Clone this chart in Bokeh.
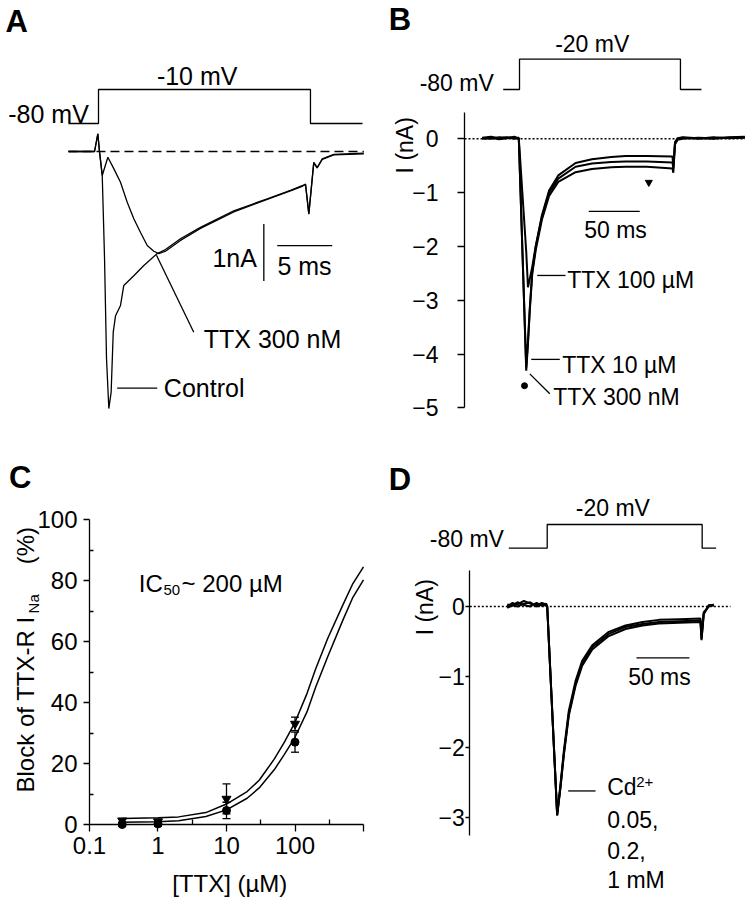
from math import pi
from bokeh.plotting import figure
from bokeh.models import (Range1d, Label, FixedTicker, Whisker, TeeHead,
                          ColumnDataSource, CustomJSTickFormatter)
from bokeh.layouts import column, row
from bokeh.embed import file_html
from bokeh.resources import INLINE

FONT = "Liberation Sans"
LW = 1.3

# ---------------- Panel A data (ms, nA, mV) ----------------
a_step_t = [-2.73, 0.0, 0.0, 19.27, 19.27, 24.0]
a_step_v = [-80, -80, -10, -10, -80, -80]
a_ctrl_t = [-2.73, -0.36, -0.06, 0.09, 0.34, 0.55, 0.73, 0.94, 1.15, 1.34, 1.55, 2.00,
            2.30, 3.21, 4.12, 5.34, 6.09, 7.45, 9.27, 12.3, 15.34, 17.45, 18.52, 18.82,
            19.12, 19.57, 19.88, 20.34, 21.39, 24.12]
a_ctrl_i = [0, 0, 0.31, 0, -0.42, -1.88, -3.64, -4.51, -4.22, -3.17, -2.88, -2.70,
            -2.35, -2.18, -2.00, -1.79, -1.72, -1.53, -1.33, -1.04, -0.83, -0.68, -0.60, -0.57,
            -1.09, -0.19, -0.28, -0.13, -0.05, -0.03]
a_ttx_t = [-2.73, -0.36, -0.06, 0.09, 0.34, 0.85, 1.39, 2.00, 2.61, 3.21, 3.82, 4.43,
           5.03, 5.48, 6.09, 7.45, 9.27, 12.3, 15.34, 17.45, 18.52, 18.82, 19.12, 19.57,
           19.88, 20.34, 21.39, 24.12]
a_ttx_i = [0, 0, 0.31, 0, -0.42, -0.10, -0.30, -0.54, -0.89, -1.18, -1.42, -1.65,
           -1.75, -1.79, -1.75, -1.56, -1.35, -1.06, -0.84, -0.69, -0.61, -0.58, -1.10, -0.20,
           -0.29, -0.14, -0.06, -0.04]

# ---------------- Panel B data ----------------
b_step_t = [-16.0, 0.0, 0.0, 157.8, 157.8, 178.4]
b_step_v = [-80, -80, -20, -20, -80, -80]
b_t = [-36.6, -28, -20, -12, -5, -0.7, 6.6, 8.3, 10.1, 12.5, 16, 22, 29, 38, 55, 71, 90,
       104, 125, 150, 150.8, 152.5, 155, 160, 175, 190, 205, 220.9]
b_300nM = [0.02, 0.04, 0.01, 0.03, 0.02, 0.02, -4.31, -3.81, -3.19, -2.51, -2.06, -1.50, -1.06,
           -0.80, -0.62, -0.56, -0.53, -0.52, -0.52, -0.55, -0.63, -0.10, -0.02, 0.0, 0.02,
           0.01, 0.03, 0.04]
b_10uM = [0.0, 0.02, -0.01, 0.01, 0.04, 0.0, -4.25, -3.76, -3.14, -2.47, -2.0, -1.45, -1.0,
          -0.74, -0.52, -0.46, -0.43, -0.42, -0.42, -0.44, -0.55, -0.08, 0.0, 0.02, 0.0,
          0.03, 0.01, 0.02]
b_100uM = [0.01, 0.0, 0.03, 0.02, 0.0, 0.01, -2.1, -2.76, -2.6, -2.38, -1.98, -1.42, -0.96,
           -0.68, -0.45, -0.38, -0.34, -0.32, -0.32, -0.33, -0.5, -0.06, 0.01, 0.03, 0.01,
           0.0, 0.02, 0.03]
b_yticks = [-5, -4, -3, -2, -1, 0]

# ---------------- Panel C data ----------------
conc = [0.3, 1, 10, 100]
block_circ = [0.0, 0.2, 4.6, 27.0]
err_circ = [0.6, 0.8, 2.7, 3.3]
block_tri = [1.3, 1.0, 8.4, 33.0]
err_tri = [0.5, 0.5, 4.9, 2.2]
fit_x = [0.3, 1, 2, 5, 10, 20, 30, 50, 70, 100, 150, 200, 300, 500, 700, 1000]
fit_up = [2.0, 2.2, 2.5, 3.9, 6.7, 10.8, 14.5, 21.5, 27, 33.5, 43, 51, 61, 72, 79, 84.5]
fit_lo = [0.7, 0.9, 1.2, 2.6, 4.8, 8.6, 12, 18, 23, 28.6, 37, 45, 55, 67, 74.5, 80.2]
c_xticks = [0.1, 1, 10, 100, 1000]
c_xminor = [0.3162, 3.162, 31.62, 316.2]
c_yticks = [0, 20, 40, 60, 80, 100]
c_yminor = [10, 30, 50, 70, 90]

# ---------------- Panel D data ----------------
d_step_t = [-36.2, 0.0, 0.0, 146.2, 146.2, 159.4]
d_step_v = [-80, -80, -20, -20, -80, -80]
d_t = [-37.7, -33, -28, -22, -16, -10, -5, -1, 0, 9.4, 12.5, 15.7, 20.4, 26.7, 33.0, 42.5,
       58.1, 73.9, 90, 105.3, 125, 144.6, 145.6, 147.7, 152.5, 157.2]
d_cd1 = [0.0, 0.05, 0.03, 0.08, 0.04, 0.02, 0.05, 0.03, 0.0, -2.97, -2.56, -2.09, -1.52, -1.10,
         -0.81, -0.58, -0.39, -0.29, -0.25, -0.22, -0.21, -0.20, -0.46, -0.10, 0.01, 0.02]
d_cd2 = [0.03, 0.01, 0.06, 0.02, 0.0, 0.05, 0.01, 0.04, 0.0, -2.95, -2.53, -2.05, -1.48, -1.06,
         -0.77, -0.55, -0.36, -0.27, -0.22, -0.19, -0.18, -0.17, -0.42, -0.08, 0.0, 0.03]
d_cd3 = [-0.02, 0.02, 0.0, 0.04, 0.06, 0.0, 0.03, 0.01, 0.0, -2.96, -2.58, -2.11, -1.55, -1.13,
         -0.84, -0.61, -0.42, -0.32, -0.27, -0.24, -0.23, -0.22, -0.48, -0.11, 0.02, 0.01]
d_yticks = [-3, -2, -1, 0]


def base_fig(w, h, xr, yr, **kw):
    p = figure(width=w, height=h, x_range=xr, y_range=yr, output_backend="svg",
               toolbar_location=None, title=None, min_border_left=0, min_border_right=0,
               min_border_top=0, min_border_bottom=0, **kw)
    p.grid.visible = False
    p.outline_line_color = None
    p.background_fill_color = "white"
    p.border_fill_color = "white"
    return p


def lab(p, x, y, text, size=25, align="left", baseline="middle", bold=False, angle=0.0):
    p.add_layout(Label(x=x, y=y, text=text, text_font=FONT, text_font_size=f"{size}px",
                       text_align=align, text_baseline=baseline, angle=angle,
                       text_font_style="bold" if bold else "normal", text_color="black"))


def style_axis(ax, size, tick_out, standoff):
    ax.axis_line_width = LW
    ax.axis_line_color = "black"
    ax.major_tick_line_width = LW
    ax.major_tick_line_color = "black"
    ax.major_tick_out = tick_out
    ax.major_tick_in = 0
    ax.minor_tick_line_color = None
    ax.major_label_text_font = FONT
    ax.major_label_text_font_size = f"{size}px"
    ax.major_label_text_color = "black"
    ax.major_label_standoff = standoff


# ================= Panel A =================
pA = base_fig(375, 420, Range1d(-8.909, 25.182), Range1d(-4.719, 2.649),
              x_axis_type=None, y_axis_type=None)
pA.extra_y_ranges = {"v": Range1d(-691.5, 173.2)}
pA.line(a_step_t, a_step_v, y_range_name="v", line_color="black", line_width=LW)
pA.line([a_ctrl_t[0], a_ctrl_t[-1]], [0, 0], line_color="black", line_width=LW, line_dash="9 5")
pA.line(a_ttx_t, a_ttx_i, line_color="black", line_width=LW)
pA.line(a_ctrl_t, a_ctrl_i, line_color="black", line_width=LW)
pA.segment(x0=[15.03], y0=[-1.27], x1=[15.03], y1=[-2.27], line_color="black", line_width=LW)
pA.segment(x0=[16.25], y0=[-1.65], x1=[21.25], y1=[-1.65], line_color="black", line_width=LW)
pA.segment(x0=[5.27, 1.70], y0=[-1.82, -4.15], x1=[8.66, 5.34], y1=[-3.17, -4.15],
           line_color="black", line_width=LW)
lab(pA, -8.45, 2.28, "A", size=31, bold=True)
lab(pA, -0.88, 0.66, "-80 mV", align="right")
lab(pA, 8.97, 1.33, "-10 mV", align="center")
lab(pA, 14.4, -1.87, "1nA", align="right")
lab(pA, 18.73, -2.0, "5 ms", align="center")
lab(pA, 9.57, -3.29, "TTX 300 nM")
lab(pA, 5.94, -4.15, "Control")

# ================= Panel B =================
pB = base_fig(375, 420, Range1d(-141.2, 226.5), Range1d(-5.236, 2.571), x_axis_type=None)
pB.extra_y_ranges = {"v": Range1d(-735.4, 96.2)}
pB.line(b_step_t, b_step_v, y_range_name="v", line_color="black", line_width=LW)
pB.line([-53.9, 221.0], [0, 0], line_color="black", line_width=1.5, line_dash="2 2")
for ser in (b_300nM, b_10uM, b_100uM):
    pB.line(b_t, ser, line_color="black", line_width=2.0)
yb = pB.yaxis[0]
yb.ticker = FixedTicker(ticks=b_yticks)
yb.bounds = (-5, 0.49)
yb.fixed_location = -53.92
style_axis(yb, 23, 7, 19)
pB.scatter([126.8], [-0.81], marker="inverted_triangle", size=7, color="black")
pB.scatter([4.9], [-4.59], marker="circle", size=6, color="black")
pB.segment(x0=[67.9], y0=[-1.35], x1=[117.9], y1=[-1.35], line_color="black", line_width=LW)
pB.segment(x0=[17.4, 11.5, 10.1], y0=[-2.54, -4.10, -4.37], x1=[45.1, 39.5, 29.7],
           y1=[-2.54, -4.10, -4.74], line_color="black", line_width=LW)
lab(pB, -128.1, 2.22, "B", size=31, bold=True)
lab(pB, -111.8, -0.12, "I (nA)", size=23, align="center", angle=pi / 2)
lab(pB, -25.2, 1.04, "-80 mV", size=23, align="right")
lab(pB, 71.3, 1.77, "-20 mV", size=23, align="center")
lab(pB, 94.1, -1.70, "50 ms", size=23, align="center")
lab(pB, 46.7, -2.63, "TTX 100 \u00b5M", size=23)
lab(pB, 41.8, -4.21, "TTX 10 \u00b5M", size=23)
lab(pB, 33.0, -4.80, "TTX 300 nM", size=23)

# ================= Panel C =================
pC = base_fig(375, 479, Range1d(0.005021, 1496.6), Range1d(-24.59, 132.46), x_axis_type="log")
xc = pC.xaxis[0]
xc.ticker = FixedTicker(ticks=c_xticks, minor_ticks=c_xminor)
xc.formatter = CustomJSTickFormatter(
    code="if (tick >= 999) { return ''; } return tick < 0.5 ? tick.toFixed(1) : tick.toFixed(0);")
xc.fixed_location = 0
xc.bounds = (0.1, 1000)
style_axis(xc, 24, 7, 5)
xc.minor_tick_line_color = "black"
xc.minor_tick_line_width = LW
xc.minor_tick_in = 5
xc.minor_tick_out = 0
yc = pC.yaxis[0]
yc.ticker = FixedTicker(ticks=c_yticks, minor_ticks=c_yminor)
yc.bounds = (0, 100)
yc.fixed_location = 0.1
style_axis(yc, 24, 6, 6)
yc.minor_tick_line_color = "black"
yc.minor_tick_line_width = LW
yc.minor_tick_in = 4
yc.minor_tick_out = 0

pC.line(fit_x, fit_up, line_color="black", line_width=1.5)
pC.line(fit_x, fit_lo, line_color="black", line_width=1.5)
src_t = ColumnDataSource(dict(x=conc, y=block_tri,
                              up=[v + e for v, e in zip(block_tri, err_tri)],
                              lo=[v - e for v, e in zip(block_tri, err_tri)]))
src_c = ColumnDataSource(dict(x=conc, y=block_circ,
                              up=[v + e for v, e in zip(block_circ, err_circ)],
                              lo=[v - e for v, e in zip(block_circ, err_circ)]))
for src in (src_t, src_c):
    pC.add_layout(Whisker(source=src, base="x", upper="up", lower="lo", dimension="height",
                          line_color="black", line_width=LW,
                          upper_head=TeeHead(size=8, line_width=LW, line_color="black"),
                          lower_head=TeeHead(size=8, line_width=LW, line_color="black")))
pC.scatter("x", "y", source=src_t, marker="inverted_triangle", size=9, color="black")
pC.scatter("x", "y", source=src_c, marker="circle", size=8, color="black")
lab(pC, 0.00668, 113.7, "C", size=31, bold=True)
lab(pC, 0.01164, 10.5, "Block of TTX-R I", size=24, angle=pi / 2)
lab(pC, 0.01522, 69.2, "Na", size=15, angle=pi / 2)
lab(pC, 0.01164, 85.3, "(%)", size=24, angle=pi / 2)
lab(pC, 0.525, 78.9, "IC", size=24)
lab(pC, 1.203, 77.0, "50", size=15)
lab(pC, 2.203, 78.9, "~ 200 \u00b5M", size=24)
lab(pC, 11.14, -19.4, "[TTX] (\u00b5M)", size=24, align="center")

# ================= Panel D =================
pD = base_fig(375, 479, Range1d(-162.0, 191.8), Range1d(-4.162, 2.642), x_axis_type=None)
pD.extra_y_ranges = {"v": Range1d(-969.4, 243.3)}
pD.line(d_step_t, d_step_v, y_range_name="v", line_color="black", line_width=LW)
pD.line([-73.0, 172.9], [0, 0], line_color="black", line_width=1.5, line_dash="2 2")
for ser in (d_cd1, d_cd2, d_cd3):
    pD.line(d_t, ser, line_color="black", line_width=2.0)
yd = pD.yaxis[0]
yd.ticker = FixedTicker(ticks=d_yticks)
yd.bounds = (-3.25, 0.51)
yd.fixed_location = -73.0
style_axis(yd, 23, 4, 1)
pD.segment(x0=[84.2, 19.8], y0=[-0.73, -2.62], x1=[134.2, 45.6], y1=[-0.73, -2.62],
           line_color="black", line_width=LW)
lab(pD, -149.4, 1.81, "D", size=31, bold=True)
lab(pD, -115.0, -0.01, "I (nA)", size=23, align="center", angle=pi / 2)
lab(pD, -40.8, 0.96, "-80 mV", size=23, align="right")
lab(pD, 61.9, 1.40, "-20 mV", size=23, align="center")
lab(pD, 105.9, -1.00, "50 ms", size=23, align="center")
lab(pD, 56.6, -2.57, "Cd", size=23)
lab(pD, 84.0, -2.49, "2+", size=15)
lab(pD, 56.6, -3.02, "0.05,", size=23)
lab(pD, 56.6, -3.47, "0.2,", size=23)
lab(pD, 56.6, -3.89, "1 mM", size=23)

layout = column(row(pA, pB), row(pC, pD))
open("out.html", "w").write(file_html(layout, INLINE))
